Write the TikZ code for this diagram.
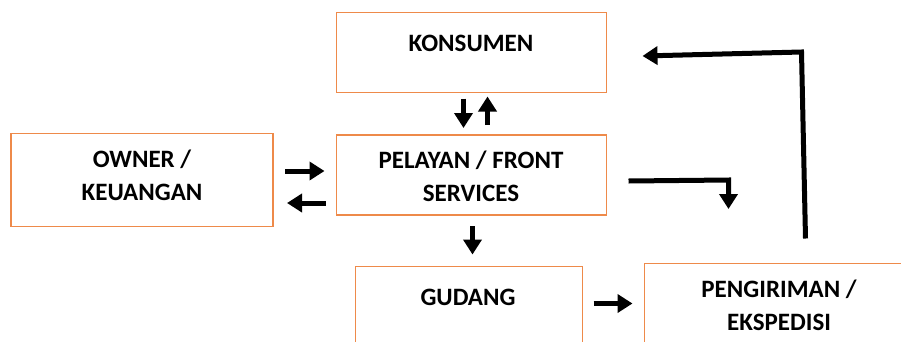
\documentclass[tikz,border=0pt]{standalone}
\usepackage{fontspec}
\setmainfont{Carlito}
\usetikzlibrary{calc,arrows.meta}
\definecolor{boxorange}{HTML}{EE8A4A}
\tikzset{
  box/.style={draw=boxorange, line width=1.6pt, rectangle, inner sep=0pt, outer sep=0pt, anchor=north west, fill=white},
  lbl/.style={font=\fontsize{25}{33}\selectfont\bfseries, align=center, inner sep=0pt, anchor=base},
  arr/.style={line width=5pt, -{Triangle[width=18pt,length=15pt]}},
}
\begin{document}
\begin{tikzpicture}[x=1pt,y=-1pt]
\path[use as bounding box] (0,0) rectangle (901,341);
\clip (0,0) rectangle (901,341);
\node[box, minimum width=270pt, minimum height=80pt] (kons) at (336.5,12.5) {};
\node[box, minimum width=262pt, minimum height=93pt] (own) at (11,133.5) {};
\node[box, minimum width=270pt, minimum height=80pt] (pel) at (336.5,135) {};
\node[box, minimum width=227pt, minimum height=90pt] (gud) at (355.5,266.5) {};
\node[box, minimum width=270pt, minimum height=90pt] (peng) at (644.5,263.5) {};
\node[lbl] (konsT) at (471,51) {KONSUMEN};
\node[lbl] (ownT) at (142,200) {OWNER /\\KEUANGAN};
\node[lbl] (pelT) at (471,201) {PELAYAN / FRONT\\SERVICES};
\node[lbl] (gudT) at (468,305) {GUDANG};
\node[lbl] (pengT) at (779,330) {PENGIRIMAN /\\EKSPEDISI};
% konsumen <-> pelayan
\draw[arr] ($(kons.south)+(-8,6)$) -- ($(pel.north)+(-8,-7)$);
\draw[arr] ($(pel.north)+(16,-10)$) -- ($(kons.south)+(16,4)$);
% owner <-> pelayan
\draw[arr] ($(own.east)+(12,-9)$) -- ($(pel.west)+(-12,-4)$);
\draw[arr] ($(pel.west)+(-11,28)$) -- ($(own.east)+(14,23)$);
% pelayan -> gudang
\draw[arr] ($(pel.south)+(1,11)$) -- ($(gud.north)+(3.5,-12)$);
% gudang -> pengiriman
\draw[arr] ($(gud.east)+(11,-8)$) -- ($(peng.west)+(-12,-5)$);
% pelayan -> elbow down
\coordinate (e1) at ($(pel.east)+(122,5)$);
\draw[arr] ($(pel.east)+(22,6)$) -- (e1) -- ($(e1)+(0,29)$);
% pengiriman -> konsumen
\coordinate (e2) at ($(kons.east)+(195,-0.5)$);
\draw[arr] ($(peng.north)+(26,-25)$) -- (e2) -- ($(kons.east)+(36,3.5)$);
\end{tikzpicture}
\end{document}
